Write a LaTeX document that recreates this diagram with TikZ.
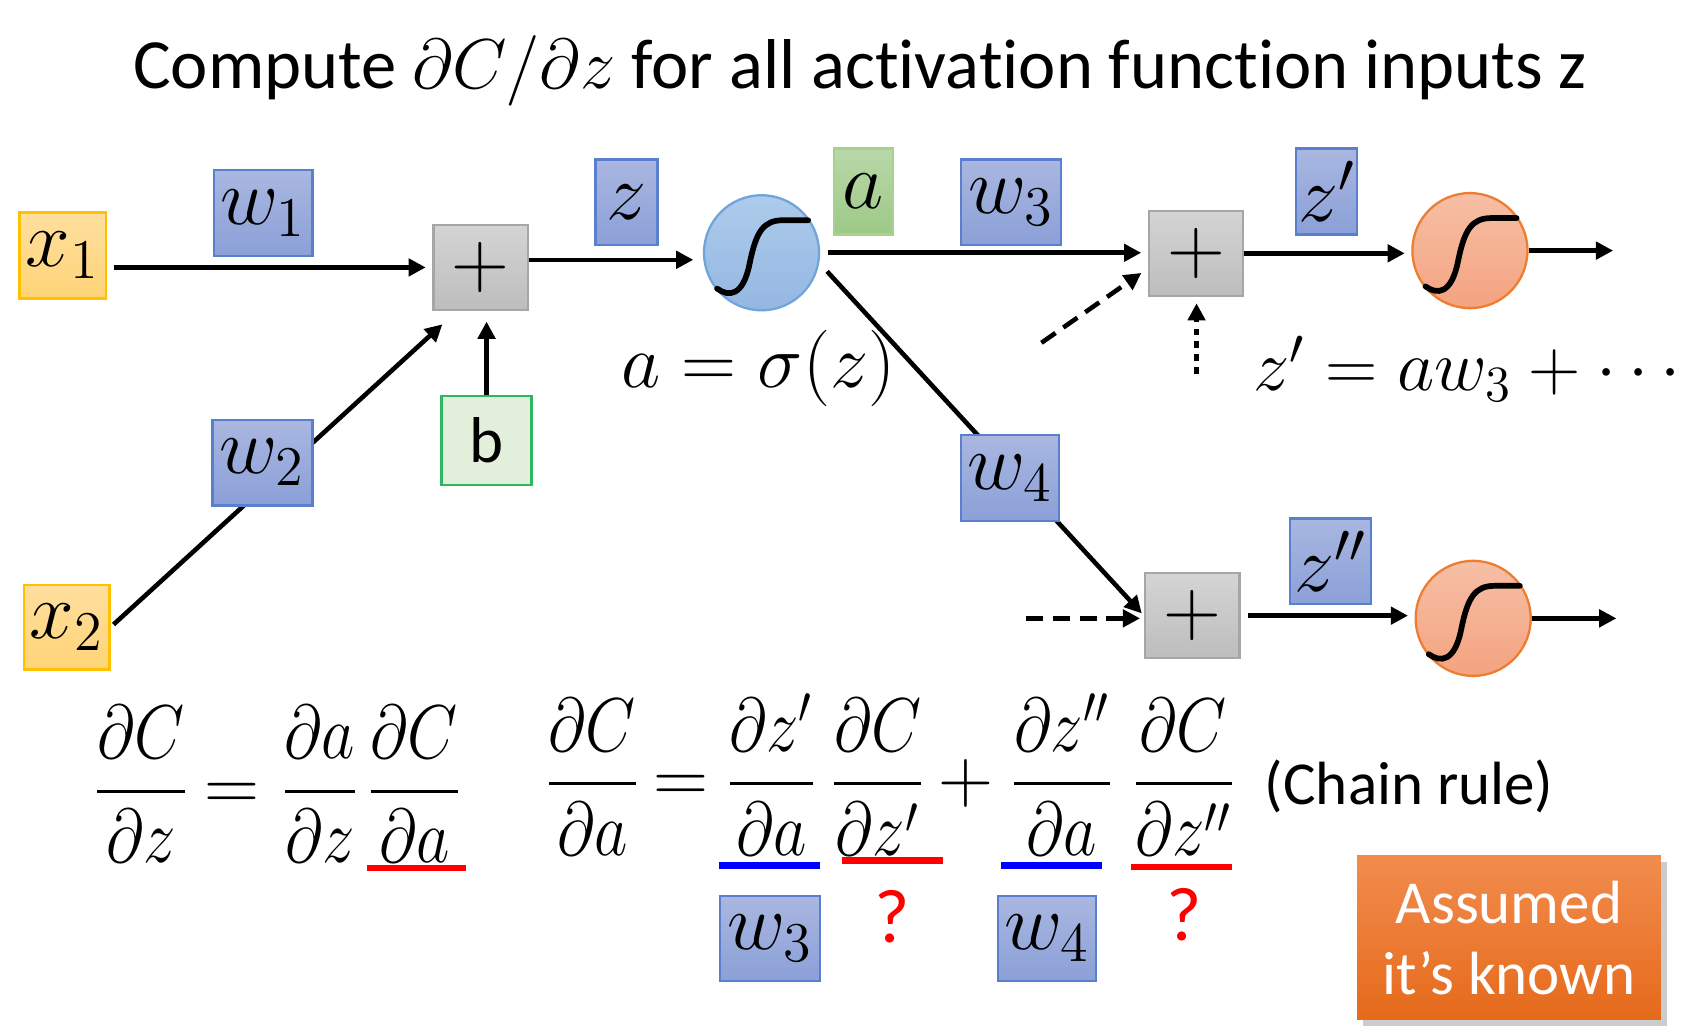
\RequirePackage{fix-cm}
\documentclass[tikz,border=0pt]{standalone}
\usepackage[no-math]{fontspec}
\setmainfont[Ligatures=NoCommon]{Carlito}
\usepackage{amsmath}
\usepackage{graphicx}
\usetikzlibrary{arrows.meta,shadows,calc}
\definecolor{bluetop}{HTML}{A9B7E0}
\definecolor{bluebot}{HTML}{8BA0D8}
\definecolor{blueborder}{HTML}{5A7FCC}
\definecolor{graytop}{HTML}{D4D4D4}
\definecolor{graybot}{HTML}{BDBDBD}
\definecolor{grayborder}{HTML}{A6A6A6}
\definecolor{yeltop}{HTML}{FFDF9E}
\definecolor{yelbot}{HTML}{FFD478}
\definecolor{yelborder}{HTML}{FFC000}
\definecolor{gtop}{HTML}{B9D8A9}
\definecolor{gbot}{HTML}{9DC986}
\definecolor{gborder}{HTML}{A9D18E}
\definecolor{lgfill}{HTML}{E2EFDA}
\definecolor{lgborder}{HTML}{2DB85F}
\definecolor{ctop}{HTML}{ADCBEB}
\definecolor{cbot}{HTML}{94B7E2}
\definecolor{cborder}{HTML}{6FA5DA}
\definecolor{otop}{HTML}{F6BFA6}
\definecolor{obot}{HTML}{F4A37F}
\definecolor{oborder}{HTML}{ED7D31}
\definecolor{btop}{HTML}{F28C4E}
\definecolor{bbot}{HTML}{E56A1B}
\definecolor{qred}{HTML}{FF0000}
\definecolor{qblue}{HTML}{0000FF}
\begin{document}
\begin{tikzpicture}[x=0.01cm, y=-0.01cm,
  box/.style={inner sep=0pt, line width=0.6pt, font=\fontsize{21}{25}\selectfont},
  wbox/.style={box, draw=blueborder, top color=bluetop, bottom color=bluebot},
  xbox/.style={box, draw=yelborder, top color=yeltop, bottom color=yelbot},
  pbox/.style={box, draw=grayborder, top color=graytop, bottom color=graybot, minimum width=0.87cm, minimum height=0.78cm},
  sigb/.style={circle, inner sep=0pt, minimum size=1.06cm, line width=0.6pt, draw=cborder, top color=ctop, bottom color=cbot},
  sigo/.style={circle, inner sep=0pt, minimum size=1.06cm, line width=0.6pt, draw=oborder, top color=otop, bottom color=obot},
  arr/.style={line width=1.2pt, -{Triangle[length=4.5pt,width=4.5pt]}},
  dashline/.style={dash pattern=on 4.5pt off 2.5pt},
  dotline/.style={dash pattern=on 1.8pt off 1.6pt},
  fr/.style={inner sep=0pt, anchor=base, font=\fontsize{20}{24}\selectfont},
  uline/.style={line width=0.06cm}]
\fill[white] (0,0) rectangle (1568,953);
\useasboundingbox (0,0) rectangle (1568,953);

% title
\node[font=\fontsize{18.5}{22}\selectfont] (title) at (793,65) {Compute $\partial C/\partial z$ for all activation function inputs z};

% nodes
\node[xbox, minimum width=0.80cm, minimum height=0.79cm] (x1) at (58,235.5) {$x_1$};
\node[xbox, minimum width=0.79cm, minimum height=0.78cm] (x2) at (61.5,578) {$x_2$};
\node[pbox] (p1) at (443,246.5) {$+$};
\node[box, draw=lgborder, fill=lgfill, minimum width=0.83cm, minimum height=0.82cm, font=\fontsize{17}{20}\selectfont] (b) at (448.5,406) {b};
\node[sigb] (s1) at (702,233) {};
\node[pbox] (p2) at (1102.5,233.5) {$+$};
\node[pbox] (p3) at (1099,567.5) {$+$};
\node[sigo] (s2) at (1355,231) {};
\node[sigo] (s3) at (1358,570) {};

\coordinate (d1) at (960,316);
\coordinate (d2) at (1103,345);
\coordinate (d3) at (946,570);
\coordinate (o2) at (1487,233);
\coordinate (o3) at (1490,572);

% connectors
\draw[arr, shorten <=1.7pt, shorten >=1.7pt] (x1.east |- p1.west) -- (p1.west);
\draw[arr, shorten <=1pt, shorten >=1pt] (x2.east) -- ($(p1.south west)+(12,10)$);
\draw[arr, shorten >=2.8pt] (b.north) -- (b.north |- p1.south);
\draw[arr, shorten >=2.5pt] ([yshift=2pt]p1.east) -- ([yshift=2pt]p1.east -| s1.west);
\draw[arr, shorten <=2pt, shorten >=1.7pt] (s1.east) -- (s1.east -| p2.west);
\draw[arr, shorten <=3pt, shorten >=0.8pt] (s1.-10) -- (p3.west);
\draw[arr, dashline, shorten >=2pt] (d1) -- ([yshift=-4pt]p2.west);
\draw[arr, dotline, shorten >=1.7pt] (d2) -- (d2 |- p2.south);
\draw[arr, dashline, shorten >=1pt] (d3) -- (d3 -| p3.west);
\draw[arr, shorten >=1.7pt] (p2.east) -- (p2.east -| s2.west);
\draw[arr] (s2.east) -- (s2.east -| o2);
\draw[arr, shorten <=2pt, shorten >=1.7pt] (p3.east) -- (p3.east -| s3.west);
\draw[arr] (s3.east) -- (s3.east -| o3);

% weight / value boxes (over the lines)
\node[wbox, minimum width=0.91cm, minimum height=0.79cm] (w1) at (242.5,196.5) {$w_1$};
\node[wbox, minimum width=0.92cm, minimum height=0.79cm] (w2) at (242,426.5) {$w_2$};
\node[wbox, minimum width=0.57cm, minimum height=0.79cm] (z) at (577.5,186.5) {$z$};
\node[box, draw=gborder, top color=gtop, bottom color=gbot, minimum width=0.54cm, minimum height=0.79cm] (a) at (796,176.5) {$a$};
\node[wbox, minimum width=0.92cm, minimum height=0.79cm] (w3) at (932,186.5) {$w_3$};
\node[wbox, minimum width=0.56cm, minimum height=0.79cm] (zp) at (1223,176.5) {$z'$};
\node[wbox, minimum width=0.90cm, minimum height=0.79cm] (w4) at (931,440.5) {$w_4$};
\node[wbox, minimum width=0.75cm, minimum height=0.79cm] (zpp) at (1226.5,517.5) {$z''$};

% sigmoid curves
\foreach \s in {s1,s2,s3}{
  \draw[line width=1.5pt, line cap=round, shift={(\s)}] (-41,33) .. controls (-30,41) and (-17,40) .. (-11,10) .. controls (-5,-20) and (2,-30) .. (20,-30) -- (43,-30);
}

% formulas in the graph
\node[font=\fontsize{20}{24}\selectfont] (asig) at (699,340) {$a = \sigma(z)$};
\node[font=\fontsize{19}{23}\selectfont] (zpeq) at (1358,340) {$z' = aw_3 + \cdots$};

% bottom equations
\node[fr] (f1) at (130,747) {\scalebox{0.85}[1]{$\displaystyle\frac{\partial C}{\partial z}$}};
\node[fr] (eq1) at (214,747) {$=$};
\node[fr] (f2) at (295,747) {\scalebox{0.85}[1]{$\displaystyle\frac{\partial a}{\partial z}$}};
\node[fr] (f3) at (382,747) {\scalebox{0.85}[1]{$\displaystyle\frac{\partial C}{\partial a}$}};

\node[fr] (g1) at (546,740) {\scalebox{0.85}[1]{$\displaystyle\frac{\partial C}{\partial a}$}};
\node[fr] (eq2) at (628,740) {$=$};
\node[fr] (g2) at (711,740) {\scalebox{0.85}[1]{$\displaystyle\frac{\partial z'}{\partial a}$}};
\node[fr] (g3) at (809,740) {\scalebox{0.85}[1]{$\displaystyle\frac{\partial C}{\partial z'}$}};
\node[fr] (plus) at (890,740) {$+$};
\node[fr] (g4) at (979,740) {\scalebox{0.85}[1]{$\displaystyle\frac{\partial z''}{\partial a}$}};
\node[fr] (g5) at (1091,740) {\scalebox{0.85}[1]{$\displaystyle\frac{\partial C}{\partial z''}$}};
\node[font=\fontsize{16}{19}\selectfont] (chain) at (1299,725) {(Chain rule)};

% underlines
\draw[qred, uline] (338,800) -- (430,800);
\draw[qblue, uline] (663,798) -- (756,798);
\draw[qred, uline] (776,793) -- (869,793);
\draw[qblue, uline] (923,798) -- (1016,798);
\draw[qred, uline] (1043,799) -- (1136,799);

% below
\node[wbox, minimum width=0.92cm, minimum height=0.78cm] (w3b) at (710,865) {$w_3$};
\node[wbox, minimum width=0.90cm, minimum height=0.78cm] (w4b) at (965,865) {$w_4$};
\node[text=qred, font=\fontsize{20}{24}\selectfont] (q1) at (822,845) {?};
\node[text=qred, font=\fontsize{20}{24}\selectfont] (q2) at (1092,843) {?};

\node[top color=btop, bottom color=bbot, drop shadow={opacity=0.4, shadow xshift=1.5pt, shadow yshift=-1.5pt}, minimum width=2.8cm, minimum height=1.51cm, inner sep=0pt, align=center, text=white, font=\fontsize{16}{18.5}\selectfont] (known) at (1391,864.5) {Assumed\\it’s known};
\end{tikzpicture}
\end{document}
